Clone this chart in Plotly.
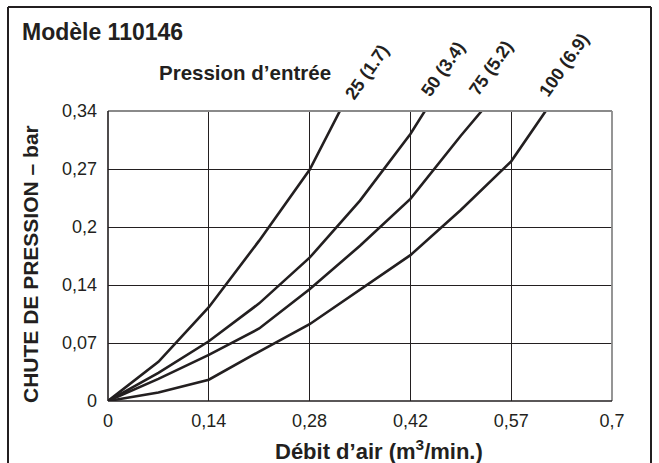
import plotly.graph_objects as go

# ---- data ----
x_tick_vals = [0, 0.14, 0.28, 0.42, 0.56, 0.70]
x_tick_text = ["0", "0,14", "0,28", "0,42", "0,57", "0,7"]
y_tick_vals = [0, 0.068, 0.136, 0.204, 0.272, 0.34]
y_tick_text = ["0", "0,07", "0,14", "0,2", "0,27", "0,34"]

series_names = ["25 (1.7)", "50 (3.4)", "75 (5.2)", "100 (6.9)"]
x_25 = [0, 0.07, 0.14, 0.21, 0.28, 0.322, 0.3257]
y_25 = [0, 0.046, 0.110, 0.188, 0.271, 0.340, 0.346]
x_50 = [0, 0.07, 0.14, 0.21, 0.28, 0.35, 0.42, 0.440, 0.4445]
y_50 = [0, 0.033, 0.070, 0.1145, 0.168, 0.235, 0.313, 0.340, 0.346]
x_75 = [0, 0.07, 0.14, 0.21, 0.28, 0.35, 0.42, 0.49, 0.519, 0.5245]
y_75 = [0, 0.026, 0.054, 0.085, 0.131, 0.182, 0.237, 0.311, 0.340, 0.346]
x_100 = [0, 0.07, 0.14, 0.21, 0.28, 0.35, 0.42, 0.49, 0.56, 0.608, 0.6125]
y_100 = [0, 0.010, 0.025, 0.058, 0.090, 0.130, 0.171, 0.224, 0.281, 0.340, 0.346]
series_x = [x_25, x_50, x_75, x_100]
series_y = [y_25, y_50, y_75, y_100]

W, H = 659, 463
L, R, T, B = 108, 47, 111, 62
PW, PH = W - L - R, H - T - B

def px(x):
    return (x - L) / PW

def py(y):
    return (H - B - y) / PH

FONT = "Liberation Sans, Arial, Helvetica, sans-serif"
INK = "#231f20"

fig = go.Figure()
for xs, ys, name in zip(series_x, series_y, series_names):
    fig.add_trace(go.Scatter(x=xs, y=ys, mode="lines", name=name,
                             line=dict(color=INK, width=2.6),
                             cliponaxis=False, showlegend=False,
                             hoverinfo="skip"))

fig.update_layout(
    width=W, height=H,
    margin=dict(l=L, r=R, t=T, b=B, autoexpand=False),
    paper_bgcolor="white", plot_bgcolor="white",
    font=dict(family=FONT, color=INK),
    xaxis=dict(range=[0, 0.70], tickvals=x_tick_vals, ticktext=x_tick_text,
               showgrid=True, gridcolor=INK, gridwidth=1.3,
               zeroline=False, showline=False, ticks="",
               ticklabelstandoff=7,
               tickfont=dict(size=18, family=FONT, color=INK), fixedrange=True),
    yaxis=dict(range=[0, 0.34], tickvals=y_tick_vals, ticktext=y_tick_text,
               showgrid=True, gridcolor=INK, gridwidth=1.3,
               zeroline=False, showline=False, ticks="",
               ticklabelstandoff=10,
               tickfont=dict(size=18, family=FONT, color=INK), fixedrange=True),
)

shapes = [
    # plot frame
    dict(type="line", xref="paper", yref="paper", x0=0, x1=1, y0=1, y1=1,
         line=dict(color="#8a8a8a", width=1.8)),
    dict(type="line", xref="paper", yref="paper", x0=1, x1=1, y0=0, y1=1,
         line=dict(color="#8a8a8a", width=1.8)),
    dict(type="line", xref="paper", yref="paper", x0=0, x1=1, y0=0, y1=0,
         line=dict(color=INK, width=1.6)),
    dict(type="line", xref="paper", yref="paper", x0=0, x1=0, y0=0, y1=1,
         line=dict(color=INK, width=1.6)),
    # outer page border
    dict(type="line", xref="paper", yref="paper", x0=px(8), x1=px(651), y0=py(7), y1=py(7),
         line=dict(color=INK, width=2)),
    dict(type="line", xref="paper", yref="paper", x0=px(8), x1=px(8), y0=py(7), y1=py(470),
         line=dict(color=INK, width=2)),
    dict(type="line", xref="paper", yref="paper", x0=px(651), x1=px(651), y0=py(7), y1=py(470),
         line=dict(color=INK, width=2)),
]
fig.update_layout(shapes=shapes)

annotations = [
    dict(text="<b>Modèle 110146</b>", x=px(20), y=py(32), xanchor="left", yanchor="middle",
         font=dict(size=23, family=FONT, color=INK)),
    dict(text="<b>Pression d’entrée</b>", x=px(157), y=py(73), xanchor="left", yanchor="middle",
         font=dict(size=20.5, family=FONT, color=INK)),
    dict(text="<b>Débit d’air (m<sup>3</sup>/min.)</b>", x=px(379), y=py(450),
         xanchor="center", yanchor="middle",
         font=dict(size=22, family=FONT, color=INK)),
    dict(text="<b>CHUTE DE PRESSION – bar</b>", x=px(30), y=py(264), textangle=-90,
         xanchor="center", yanchor="middle",
         font=dict(size=21, family=FONT, color=INK)),
]
label_centers = [(367, 72), (443, 69), (491, 68), (564, 65)]
for name, (cx, cy) in zip(series_names, label_centers):
    annotations.append(dict(text="<b>" + name + "</b>", x=px(cx), y=py(cy), textangle=-55,
                            xanchor="center", yanchor="middle",
                            font=dict(size=18, family=FONT, color=INK)))
for a in annotations:
    a.update(xref="paper", yref="paper", showarrow=False)
fig.update_layout(annotations=annotations)

fig.write_html("out.html", config={"displayModeBar": False},
               post_script="document.body.style.margin='0';document.body.style.overflow='hidden';")
